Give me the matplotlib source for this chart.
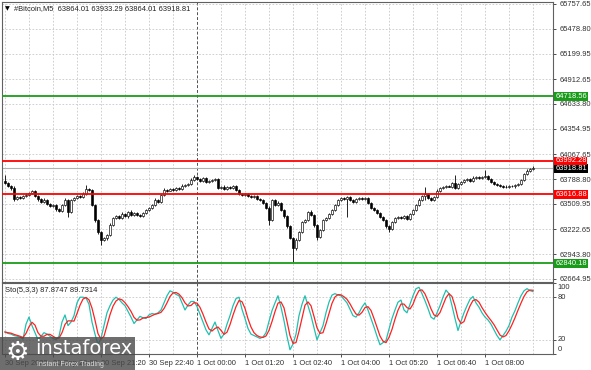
import numpy as np
import pandas as pd
import matplotlib
matplotlib.use("Agg")
import matplotlib.pyplot as plt
from matplotlib.patches import Rectangle

plt.rcParams['font.family'] = ['Liberation Sans', 'DejaVu Sans']

# M5 closes, 30 Sep 18:40 .. 1 Oct 09:20
closes = [63745, 63711, 63688, 63565, 63587, 63576, 63598, 63610, 63632, 63655,
          63598, 63565, 63531, 63553, 63508, 63486, 63497, 63452, 63430, 63497,
          63553, 63418, 63553, 63576, 63598, 63587, 63621, 63677, 63666, 63497,
          63328, 63193, 63103, 63126, 63160, 63272, 63351, 63373, 63351, 63396,
          63373, 63418, 63385, 63407, 63385, 63373, 63407, 63441, 63463, 63497,
          63553, 63531, 63610, 63666, 63660, 63677, 63666, 63688, 63677, 63711,
          63722, 63733, 63778, 63812, 63790, 63767, 63801, 63756, 63767, 63778,
          63790, 63688, 63700, 63677, 63700, 63688, 63711, 63666, 63621, 63610,
          63621, 63598, 63587, 63598, 63565, 63553, 63520, 63463, 63328, 63553,
          63497, 63520, 63441, 63373, 63261, 63126, 63014, 63103, 63193, 63306,
          63328, 63418, 63385, 63272, 63137, 63216, 63328, 63351, 63396, 63441,
          63497, 63553, 63576, 63565, 63587, 63553, 63531, 63565, 63576, 63565,
          63576, 63520, 63463, 63441, 63407, 63362, 63328, 63261, 63227, 63306,
          63351, 63362, 63351, 63373, 63340, 63396, 63441, 63497, 63553, 63598,
          63621, 63576, 63553, 63587, 63655, 63688, 63700, 63711, 63705, 63745,
          63688, 63733, 63756, 63778, 63790, 63767, 63801, 63812, 63801, 63812,
          63823, 63790, 63756, 63733, 63722, 63711, 63705, 63700, 63711, 63706,
          63722, 63733, 63778, 63846, 63880, 63902, 63918.81]
first_open = 63767

hi_wick = [68, 12, 15, 18, 10, 14, 12, 20, 15, 12,
           10, 15, 12, 18, 10, 14, 16, 12, 10, 15,
           20, 12, 15, 10, 12, 14, 18, 45, 12, 10,
           15, 12, 10, 14, 12, 18, 15, 12, 10, 20,
           12, 15, 18, 10, 12, 14, 16, 12, 10, 15,
           20, 12, 15, 18, 14, 12, 10, 15, 12, 18,
           12, 15, 20, 23, 14, 12, 16, 10, 12, 14,
           15, 12, 10, 18, 12, 15, 14, 12, 10, 15,
           12, 14, 10, 12, 15, 10, 12, 14, 20, 15,
           12, 18, 10, 12, 14, 15, 12, 20, 15, 12,
           14, 12, 18, 10, 12, 15, 14, 12, 10, 15,
           12, 14, 16, 12, 15, 10, 12, 14, 12, 10,
           15, 12, 10, 14, 12, 15, 12, 10, 14, 12,
           15, 12, 10, 12, 14, 15, 12, 10, 18, 12,
           79, 12, 15, 14, 20, 12, 15, 10, 12, 15,
           90, 12, 14, 12, 15, 10, 18, 12, 10, 14,
           68, 12, 10, 15, 12, 14, 10, 12, 15, 12,
           10, 14, 15, 12, 18, 15, 12]

lo_wick = [15, 12, 18, 20, 12, 15, 10, 12, 14, 15,
           12, 18, 15, 10, 14, 12, 15, 18, 12, 10,
           14, 56, 12, 10, 15, 12, 14, 10, 12, 15,
           20, 18, 56, 15, 20, 12, 15, 10, 14, 12,
           15, 18, 12, 14, 10, 15, 12, 10, 14, 12,
           15, 10, 12, 14, 12, 10, 15, 12, 14, 10,
           12, 15, 12, 10, 14, 12, 15, 12, 10, 14,
           12, 15, 10, 12, 14, 12, 10, 15, 12, 14,
           10, 12, 15, 12, 10, 14, 12, 15, 56, 12,
           15, 12, 14, 18, 20, 15, 157, 18, 12, 15,
           12, 14, 15, 18, 34, 12, 15, 12, 10, 14,
           12, 15, 12, 14, 200, 12, 15, 10, 12, 14,
           12, 15, 12, 10, 14, 15, 12, 18, 34, 12,
           15, 12, 14, 10, 12, 15, 12, 14, 10, 12,
           45, 15, 12, 14, 10, 12, 15, 12, 10, 14,
           12, 15, 10, 12, 14, 12, 15, 10, 12, 14,
           12, 15, 10, 14, 12, 15, 12, 10, 14, 12,
           15, 12, 10, 14, 12, 15, 12]

# stochastic %K(5,3,3), read bar by bar
stoch_k = [31, 29, 28, 26, 25, 24, 21, 42, 52, 40,
           30, 20, 25, 30, 28, 25, 22, 20, 25, 45,
           55, 40, 45, 54, 72, 80, 80, 79, 70, 45,
           28, 13, 22, 40, 58, 68, 76, 80, 77, 72,
           68, 60, 52, 43, 48, 53, 51, 50, 55, 57,
           56, 58, 62, 72, 82, 89, 87, 84, 82, 72,
           62, 69, 74, 74, 67, 56, 45, 34, 27, 36,
           45, 33, 22, 28, 42, 54, 68, 78, 80, 63,
           50, 36, 28, 26, 24, 22, 24, 30, 46, 61,
           72, 82, 66, 47, 25, 6, 14, 28, 54, 70,
           82, 68, 54, 37, 20, 30, 40, 58, 73, 83,
           85, 83, 82, 77, 72, 63, 54, 52, 58, 66,
           72, 62, 50, 38, 25, 13, 16, 19, 35, 50,
           62, 73, 76, 62, 58, 70, 82, 92, 94, 85,
           75, 64, 52, 49, 58, 68, 80, 90, 85, 68,
           50, 33, 46, 58, 68, 77, 81, 72, 66, 58,
           52, 48, 42, 34, 26, 20, 26, 32, 40, 52,
           61, 72, 82, 89, 92, 89.32, 87.8747]

price_ticks = [65757.65, 65478.80, 65199.95, 64912.65, 64633.80, 64354.95,
               64067.65, 63788.80, 63509.95, 63222.65, 62943.80, 62664.95]
levels = [(64718.56, '#1a9c1a'), (63992.28, '#ff0000'),
          (63616.88, '#ff0000'), (62840.18, '#1a9c1a')]
last_price = 63918.81
stoch_ticks = [100, 80, 20, 0]
time_pos = [0, 16, 32, 48, 64, 80, 96, 112, 128, 144, 160]
time_labels = ['30 Sep 2022', '30 Sep 20:00', '30 Sep 21:20', '30 Sep 22:40',
               '1 Oct 00:00', '1 Oct 01:20', '1 Oct 02:40', '1 Oct 04:00',
               '1 Oct 05:20', '1 Oct 06:40', '1 Oct 08:00']
day_sep = 64

closes = np.array(closes, dtype=float)
opens = np.concatenate([[first_open], closes[:-1]])
highs = np.maximum(opens, closes) + np.array(hi_wick)
lows = np.minimum(opens, closes) - np.array(lo_wick)
k = pd.Series(stoch_k, dtype=float)
d = k.rolling(3, min_periods=1).mean()
bars = np.arange(len(closes))

W, H = 591, 370
fig = plt.figure(figsize=(W / 100, H / 100), dpi=100)
ax = fig.add_axes([2 / W, (H - 282) / H, 551 / W, 280 / H])
ax2 = fig.add_axes([2 / W, (H - 354) / H, 551 / W, 71 / H])
grid_c = '#c8c8c8'
fs = 5.4

for a in (ax, ax2):
    a.set_xlim(-1, 182.67)
    for s in a.spines.values():
        s.set_color('#606060')
        s.set_linewidth(0.8)
    for gx in range(day_sep % 8, 183, 8):
        if gx != day_sep:
            a.axvline(gx, color=grid_c, lw=0.6, ls=(0, (2, 2)), zorder=0)
    a.axvline(day_sep, color='#505050', lw=0.7, ls=(0, (3, 2)), zorder=0)

# main price panel
ax.set_ylim(62631.2, 65780.1)
ax.yaxis.tick_right()
ax.set_yticks(price_ticks)
ax.set_yticklabels(['%.2f' % v for v in price_ticks], fontsize=fs, color='#303030')
ax.tick_params(axis='y', length=2.5, width=0.6, pad=2, colors='#303030')
ax.set_xticks([])
for p in price_ticks:
    ax.axhline(p, color=grid_c, lw=0.6, ls=(0, (2, 2)), zorder=0)

ax.vlines(bars, lows, highs, color='black', lw=0.6, zorder=2)
up = closes >= opens
body_w = 2.0 / 3
for i in bars:
    lo = min(opens[i], closes[i])
    h = max(abs(closes[i] - opens[i]), 4)
    ax.add_patch(Rectangle((i - body_w / 2, lo), body_w, h,
                           facecolor='white' if up[i] else 'black',
                           edgecolor='black', lw=0.45, zorder=3))

ax.axhline(last_price, color='#b0b0b0', lw=0.8, zorder=1)
for lv, c in levels:
    ax.axhline(lv, color=c, lw=1.3, zorder=4)

ytr = ax.get_yaxis_transform()
# price boxes; the current price box sits just under the upper red one
ax.text(1.004, last_price - 12, '%.2f' % last_price, transform=ytr, fontsize=fs,
        color='white', va='center', ha='left', clip_on=False, zorder=6,
        bbox=dict(boxstyle='square,pad=0.1', facecolor='black', edgecolor='none'))
for lv, c in levels:
    ax.text(1.004, lv, '%.2f' % lv, transform=ytr, fontsize=fs, color='white',
            va='center', ha='left', clip_on=False, zorder=7,
            bbox=dict(boxstyle='square,pad=0.1', facecolor=c, edgecolor='none'))

ax.text(0.006, 0.985, '\u25bc', transform=ax.transAxes, fontsize=4.5,
        family='DejaVu Sans', va='top', ha='left')
ax.text(0.022, 0.988, '#Bitcoin,M5  63864.01 63933.29 63864.01 63918.81',
        transform=ax.transAxes, fontsize=fs, va='top', ha='left', color='#202020')

# stochastic panel
ax2.set_ylim(0, 100)
ax2.yaxis.tick_right()
ax2.set_yticks(stoch_ticks)
ax2.set_yticklabels([])
ax2.tick_params(axis='y', length=2.5, width=0.6, colors='#303030')
# MT4 draws the 100 and 0 labels inside the panel edges
s_tr = ax2.get_yaxis_transform()
for yv, txt in [(93, '100'), (80, '80'), (20, '20'), (6, '0')]:
    ax2.text(1.008, yv, txt, transform=s_tr, fontsize=fs,
             va='center', ha='left', color='#303030')
for lv in (80, 20):
    ax2.axhline(lv, color=grid_c, lw=0.6, ls=(0, (2, 2)), zorder=0)
ax2.plot(bars, k, color='#20c0b0', lw=0.9, zorder=3)
ax2.plot(bars, d, color='#ff2020', lw=0.9, zorder=4)
ax2.text(0.006, 0.95, 'Sto(5,3,3) 87.8747 89.7314', transform=ax2.transAxes,
         fontsize=fs, va='top', ha='left', color='#202020')
ax2.set_xticks(time_pos)
ax2.set_xticklabels(time_labels, fontsize=fs, ha='left', color='#303030')
ax2.tick_params(axis='x', length=2.5, width=0.6, pad=2, colors='#303030')

# watermark
fig.patches.append(Rectangle((0, 0), 135 / W, 33 / H, transform=fig.transFigure,
                             facecolor='#4a4a4a', alpha=0.8, edgecolor='none', zorder=10))
fig.text(6 / W, 17 / H, '\u2699', fontsize=19, color='white', family='DejaVu Sans',
         va='center', ha='left', zorder=11)
fig.text(35 / W, 21 / H, 'instaforex', fontsize=14, color='white', family='DejaVu Sans',
         va='center', ha='left', zorder=11)
fig.text(37 / W, 6 / H, 'Instant Forex Trading', fontsize=5, color='#dddddd',
         va='center', ha='left', zorder=11)

fig.savefig('out.png', dpi=100)
